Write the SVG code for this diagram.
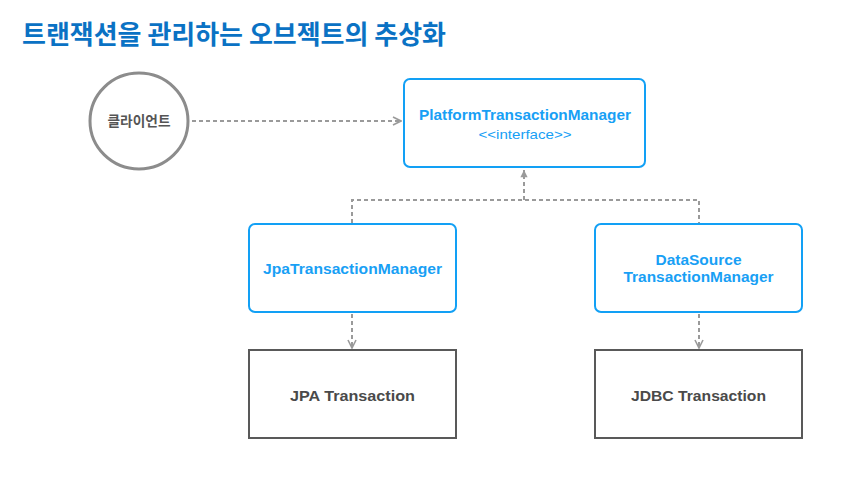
<svg xmlns="http://www.w3.org/2000/svg" width="868" height="477" viewBox="0 0 868 477">
<defs>
<marker id="arr" viewBox="0 0 10 10" refX="9" refY="5" markerWidth="10" markerHeight="10" markerUnits="userSpaceOnUse" orient="auto">
<path d="M1,1 L9,5 L1,9" fill="none" stroke="#9a9a9a" stroke-width="1.6"/>
</marker>
<marker id="tri" viewBox="0 0 10 10" refX="9" refY="5" markerWidth="9" markerHeight="9" markerUnits="userSpaceOnUse" orient="auto">
<path d="M1,1 L9,5 L1,9 Z" fill="#9a9a9a"/>
</marker>
</defs>
<style>
.title{font-family:"Noto Sans CJK KR","Noto Sans",sans-serif;font-weight:700;font-size:26px;fill:#0a72c4}
.blue{fill:#fff;stroke:#12a0f5;stroke-width:2}
.dark{fill:#fff;stroke:#595959;stroke-width:2}
.bt{font-family:"Liberation Sans","Noto Sans",sans-serif;font-weight:700;font-size:15px;fill:#18a0f5;text-anchor:middle}
.dt{font-family:"Liberation Sans","Noto Sans",sans-serif;font-weight:700;font-size:15px;fill:#4a4a4a;text-anchor:middle}
.ko{font-family:"Noto Sans CJK KR",sans-serif;font-weight:700;font-size:14px;fill:#555;text-anchor:middle}
.con{fill:none;stroke:#9a9a9a;stroke-width:2;stroke-dasharray:4 3}
</style>
<rect width="868" height="477" fill="#fff"/>
<text class="title" x="22" y="44" textLength="424" lengthAdjust="spacingAndGlyphs">트랜잭션을 관리하는 오브젝트의 추상화</text>
<g id="client">
<ellipse cx="139" cy="121" rx="49" ry="48" fill="#fff" stroke="#8c8c8c" stroke-width="3"/>
<text class="ko" x="139" y="126" textLength="63" lengthAdjust="spacingAndGlyphs">클라이언트</text>
</g>
<g id="platform">
<rect class="blue" x="404" y="79" width="241" height="88" rx="6"/>
<text class="bt" x="525" y="120" textLength="212" lengthAdjust="spacingAndGlyphs">PlatformTransactionManager</text>
<text class="bt" x="525" y="139" style="font-size:13px;font-weight:400" textLength="93" lengthAdjust="spacingAndGlyphs">&lt;&lt;interface&gt;&gt;</text>
</g>
<g id="jpaManager">
<rect class="blue" x="249" y="224" width="207" height="88" rx="6"/>
<text class="bt" x="352.5" y="274" textLength="179" lengthAdjust="spacingAndGlyphs">JpaTransactionManager</text>
</g>
<g id="dsManager">
<rect class="blue" x="595" y="224" width="207" height="88" rx="6"/>
<text class="bt" x="698.5" y="265" style="font-size:14px" textLength="86" lengthAdjust="spacingAndGlyphs">DataSource</text>
<text class="bt" x="698.5" y="282" style="font-size:14px" textLength="150" lengthAdjust="spacingAndGlyphs">TransactionManager</text>
</g>
<g id="jpaTx">
<rect class="dark" x="249" y="350" width="207" height="88"/>
<text class="dt" x="352.5" y="401" textLength="125" lengthAdjust="spacingAndGlyphs">JPA Transaction</text>
</g>
<g id="jdbcTx">
<rect class="dark" x="595" y="350" width="207" height="88"/>
<text class="dt" x="698.5" y="401" textLength="135" lengthAdjust="spacingAndGlyphs">JDBC Transaction</text>
</g>
<g id="connectors">
<path class="con" d="M192,121 H401" marker-end="url(#arr)"/>
<path class="con" d="M352,223 V200 H699 V223"/>
<path class="con" d="M524,200 V170" marker-end="url(#tri)"/>
<path class="con" d="M352,314 V348" marker-end="url(#arr)"/>
<path class="con" d="M699,314 V348" marker-end="url(#arr)"/>
</g>
</svg>
